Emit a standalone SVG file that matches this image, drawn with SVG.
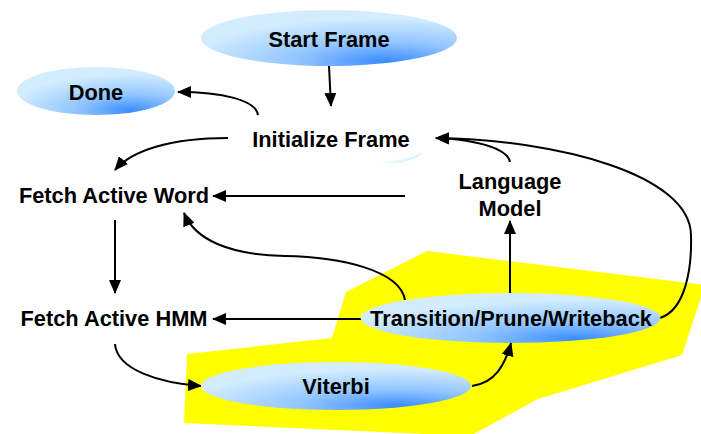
<svg xmlns="http://www.w3.org/2000/svg" width="701" height="434" viewBox="0 0 701 434">
  <style>
    .label { font-family: "Liberation Sans", Arial, sans-serif; font-weight: bold; font-size: 21.8px; fill: #000; text-anchor: middle; }
    .state { fill: url(#stateFill); }
    .edge { fill: none; stroke: #000; stroke-width: 2; marker-end: url(#arrow); }
  </style>
  <defs>
    <radialGradient id="stateFill" cx="0.72" cy="0.92" r="0.78" fx="0.72" fy="0.92">
      <stop offset="0" stop-color="#3a8cff"/>
      <stop offset="0.45" stop-color="#93c6ff"/>
      <stop offset="1" stop-color="#d3edfe"/>
    </radialGradient>
    <linearGradient id="glint" x1="0" y1="0" x2="1" y2="0">
      <stop offset="0" stop-color="#e6fbfd" stop-opacity="0.2"/>
      <stop offset="1" stop-color="#b8f0fa"/>
    </linearGradient>
    <marker id="arrow" markerUnits="userSpaceOnUse" markerWidth="14" markerHeight="12" refX="13" refY="6" orient="auto">
      <path d="M0,0 L14,6 L0,12 Z" fill="#000"/>
    </marker>
  </defs>

  <rect width="701" height="434" fill="#fff"/>

  <!-- highlighted region behind the inner loop -->
  <polygon points="427,251 705,285 682,355 538,399 470,436 184,423 187,354 332,338 346,292" fill="#ffff00"/>

  <!-- small light reflection under Initialize Frame -->
  <path d="M377,162 Q402,168 423,153 Q404,161 377,162 Z" fill="url(#glint)"/>

  <g id="connectors">
    <path class="edge" d="M329,66 L331,106"/>
    <path class="edge" d="M258,115 C256,100 222,92 178,92"/>
    <path class="edge" d="M228,138 C172,138 132,150 115,170"/>
    <path class="edge" d="M510,162 C508,150 482,140 436,138"/>
    <path class="edge" d="M660,318 C685,310 692,270 691,235 C690,175 560,140 436,138"/>
    <path class="edge" d="M510,293 L510,221"/>
    <path class="edge" d="M405,196 L213,196"/>
    <path class="edge" d="M405,300 C400,270 340,257 285,256 C230,255 195,240 184,213"/>
    <path class="edge" d="M115,220 L115,293"/>
    <path class="edge" d="M361,319 L213,319"/>
    <path class="edge" d="M115,344 C117,370 160,383 201,386"/>
    <path class="edge" d="M472,386 C495,383 505,365 511,343"/>
  </g>

  <g id="start-frame">
    <ellipse class="state" cx="329" cy="38" rx="128" ry="28"/>
    <text class="label" x="329" y="47">Start Frame</text>
  </g>
  <g id="done">
    <ellipse class="state" cx="96" cy="91" rx="79" ry="24"/>
    <text class="label" x="96" y="100">Done</text>
  </g>
  <g id="initialize-frame">
    <text class="label" x="331" y="147">Initialize Frame</text>
  </g>
  <g id="fetch-active-word">
    <text class="label" x="114" y="203">Fetch Active Word</text>
  </g>
  <g id="language-model">
    <text class="label" x="510" y="189">Language</text>
    <text class="label" x="510" y="216">Model</text>
  </g>
  <g id="fetch-active-hmm">
    <text class="label" x="114" y="326">Fetch Active HMM</text>
  </g>
  <g id="transition-prune-writeback">
    <ellipse class="state" cx="510.5" cy="318" rx="150" ry="25"/>
    <text class="label" x="511" y="326">Transition/Prune/Writeback</text>
  </g>
  <g id="viterbi">
    <ellipse class="state" cx="336" cy="386" rx="135" ry="24"/>
    <text class="label" x="336" y="394">Viterbi</text>
  </g>
</svg>
